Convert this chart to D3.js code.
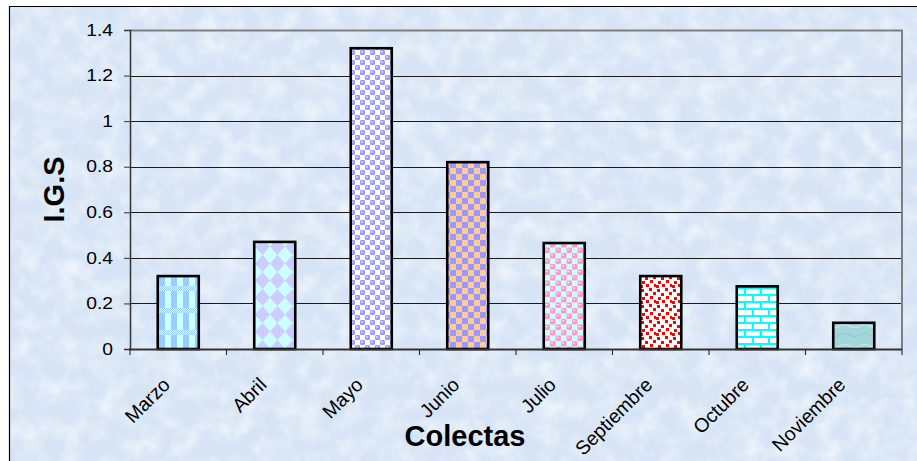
<!DOCTYPE html>
<html>
<head>
<meta charset="utf-8">
<script src="https://cdn.jsdelivr.net/npm/d3@7"></script>
<style>
  html, body { margin: 0; padding: 0; background: #ffffff; }
  svg { display: block; }
  text { font-family: "Liberation Sans", Arial, sans-serif; }
</style>
</head>
<body>
<script>
// Índice gonadosomático por colecta
const categories = ["Marzo", "Abril", "Mayo", "Junio", "Julio", "Septiembre", "Octubre", "Noviembre"];
const igsValues = [0.32, 0.47, 1.32, 0.82, 0.465, 0.32, 0.275, 0.115];
const yTicks = [0, 0.2, 0.4, 0.6, 0.8, 1, 1.2, 1.4];
const fillPatterns = ["plaid", "diamond", "sphereBlue", "checker", "spherePink", "confetti", "brick", "water"];

const W = 917, H = 461;
const plot = { left: 130, right: 902, top: 30, bottom: 349 };

const svg = d3.select("body").append("svg").attr("width", W).attr("height", H);
const defs = svg.append("defs");

// ---- background texture ----
const tex = defs.append("filter").attr("id", "tex")
  .attr("x", 0).attr("y", 0).attr("width", "100%").attr("height", "100%");
tex.append("feTurbulence").attr("type", "fractalNoise")
  .attr("baseFrequency", "0.05").attr("numOctaves", 3).attr("seed", 7);
tex.append("feColorMatrix").attr("type", "matrix")
  .attr("values", "0 0 0 0 1  0 0 0 0 1  0 0 0 0 1  1.6 0 0 0 -0.6");

const texDark = defs.append("filter").attr("id", "texDark")
  .attr("x", 0).attr("y", 0).attr("width", "100%").attr("height", "100%");
texDark.append("feTurbulence").attr("type", "fractalNoise")
  .attr("baseFrequency", "0.02").attr("numOctaves", 2).attr("seed", 3);
texDark.append("feColorMatrix").attr("type", "matrix")
  .attr("values", "0 0 0 0 0.66  0 0 0 0 0.78  0 0 0 0 0.93  1.3 0 0 0 -0.6");

// ---- bar fill patterns ----
function pattern(id, w, h) {
  return defs.append("pattern").attr("id", id).attr("patternUnits", "userSpaceOnUse")
    .attr("width", w).attr("height", h);
}

// plaid: light blue stripes over pale cyan with dithered bands
{
  const p = pattern("plaid", 12, 22);
  p.append("rect").attr("width", 12).attr("height", 22).attr("fill", "#ccffff");
  p.append("rect").attr("x", 3).attr("width", 6).attr("height", 22).attr("fill", "#99ccff");
  for (let yy = 0; yy < 5; yy++) {
    for (let xx = 0; xx < 12; xx++) {
      p.append("rect").attr("x", xx).attr("y", yy).attr("width", 1).attr("height", 1)
        .attr("fill", (xx + yy) % 2 === 0 ? "#99ccff" : "#ccffff");
    }
  }
}

// diamonds: lavender lozenges on pale cyan
{
  const p = pattern("diamond", 15, 17);
  p.append("rect").attr("width", 15).attr("height", 17).attr("fill", "#ccffff");
  p.append("polygon").attr("points", "7.5,0 15,8.5 7.5,17 0,8.5").attr("fill", "#ccccff");
}

// spheres: checker of rounded squares with small highlight
function spheres(id, size, fg, bg) {
  const p = pattern(id, size * 2, size * 2);
  p.append("rect").attr("width", size * 2).attr("height", size * 2).attr("fill", bg);
  [[0, 0], [size, size]].forEach(([ox, oy]) => {
    p.append("rect").attr("x", ox).attr("y", oy).attr("width", size).attr("height", size)
      .attr("rx", 1.2).attr("fill", fg);
    p.append("rect").attr("x", ox + 1).attr("y", oy + 1.5).attr("width", 2).attr("height", 1)
      .attr("fill", "#ffffff");
  });
  p.append("rect").attr("x", size * 2 - 0.5).attr("y", size * 2 - 0.5).attr("width", 1).attr("height", 1).attr("fill", fg);
}
spheres("sphereBlue", 5, "#9999ff", "#ffffff");
spheres("spherePink", 5.5, "#ff99cc", "#ccffff");

// checkerboard: violet and tan
{
  const p = pattern("checker", 12, 12);
  p.append("rect").attr("width", 12).attr("height", 12).attr("fill", "#ffcc99");
  p.append("rect").attr("width", 6).attr("height", 6).attr("fill", "#9999ff");
  p.append("rect").attr("x", 6).attr("y", 6).attr("width", 6).attr("height", 6).attr("fill", "#9999ff");
}

// confetti: small red squares on white
{
  const p = pattern("confetti", 16, 16);
  p.append("rect").attr("width", 16).attr("height", 16).attr("fill", "#ffffff");
  const dots = [[1, 1], [9, 0], [5, 5], [13, 4], [2, 9], [10, 8], [6, 12], [14, 12], [0, 13]];
  dots.forEach(([dx, dy]) => p.append("rect").attr("x", dx).attr("y", dy)
    .attr("width", 3).attr("height", 3).attr("fill", "#ff0000"));
}

// brick: cyan mortar on white
{
  const p = pattern("brick", 16, 14);
  p.append("rect").attr("width", 16).attr("height", 14).attr("fill", "#ffffff");
  p.append("rect").attr("y", 0).attr("width", 16).attr("height", 2).attr("fill", "#00ffff");
  p.append("rect").attr("y", 7).attr("width", 16).attr("height", 2).attr("fill", "#00ffff");
  p.append("rect").attr("x", 0).attr("y", 0).attr("width", 2).attr("height", 7).attr("fill", "#00ffff");
  p.append("rect").attr("x", 8).attr("y", 7).attr("width", 2).attr("height", 7).attr("fill", "#00ffff");
}

// water: soft teal
{
  const p = pattern("water", 20, 20);
  p.append("rect").attr("width", 20).attr("height", 20).attr("fill", "#a3d6da");
  p.append("path").attr("d", "M0,6 Q5,3 10,6 T20,6").attr("stroke", "#bfe6e8").attr("stroke-width", 1.5).attr("fill", "none");
  p.append("path").attr("d", "M0,15 Q5,12 10,15 T20,15").attr("stroke", "#8fc9ce").attr("stroke-width", 1.2).attr("fill", "none");
}

// ---- chart area ----
svg.append("rect").attr("x", 9).attr("y", 6).attr("width", W - 9).attr("height", H - 6)
  .attr("fill", "#d6e4f5");
svg.append("rect").attr("x", 9).attr("y", 6).attr("width", W - 9).attr("height", H - 6)
  .attr("filter", "url(#texDark)").attr("opacity", 0.35);
svg.append("rect").attr("x", 9).attr("y", 6).attr("width", W - 9).attr("height", H - 6)
  .attr("filter", "url(#tex)").attr("opacity", 0.7);
svg.append("path").attr("d", `M9.5,${H} V6.5 H${W}`).attr("fill", "none")
  .attr("stroke", "#000").attr("stroke-width", 1.2);

// ---- scales ----
const x = d3.scaleBand().domain(categories).range([plot.left, plot.right])
  .paddingInner(0.575).paddingOuter(0.2875);
const y = d3.scaleLinear().domain([0, 1.4]).range([plot.bottom, plot.top]);

// gridlines
svg.append("g").selectAll("line").data(yTicks.filter(t => t > 0 && t < 1.4)).join("line")
  .attr("x1", plot.left).attr("x2", plot.right)
  .attr("y1", d => Math.round(y(d)) + 0.5).attr("y2", d => Math.round(y(d)) + 0.5)
  .attr("stroke", "#1a1a1a").attr("stroke-width", 1);

// plot border (top and right)
svg.append("path")
  .attr("d", `M${plot.left},${plot.top + 0.5} H${plot.right} V${plot.bottom}`)
  .attr("fill", "none").attr("stroke", "#7f7f7f").attr("stroke-width", 2);

// bars
svg.append("g").selectAll("rect").data(categories).join("rect")
  .attr("x", d => x(d))
  .attr("y", (d, i) => y(igsValues[i]))
  .attr("width", x.bandwidth())
  .attr("height", (d, i) => y(0) - y(igsValues[i]))
  .attr("fill", (d, i) => `url(#${fillPatterns[i]})`)
  .attr("stroke", "#000").attr("stroke-width", 2.6);

// y axis (labels slightly widened)
const stretch = 1.17;
const yAxis = svg.append("g").attr("transform", `translate(${plot.left},0)`)
  .call(d3.axisLeft(y).tickValues(yTicks).tickSize(6).tickPadding(8.5).tickFormat(d => String(d)));
yAxis.select(".domain").attr("stroke", "#333").attr("stroke-width", 1.5);
yAxis.selectAll(".tick line").attr("stroke", "#333");
yAxis.selectAll(".tick text").attr("font-size", 16.5).attr("fill", "#000")
  .attr("font-family", "'Liberation Sans', Arial, sans-serif")
  .attr("transform", `scale(${stretch},1)`);

// x axis
const xAxisG = svg.append("g");
xAxisG.append("line").attr("x1", plot.left - 1).attr("x2", plot.right)
  .attr("y1", plot.bottom + 0.5).attr("y2", plot.bottom + 0.5)
  .attr("stroke", "#333").attr("stroke-width", 2);
const boundaries = categories.map(c => x(c) + x.bandwidth() / 2 - x.step() / 2)
  .concat([plot.right]);
xAxisG.selectAll("line.tk").data(boundaries).join("line").attr("class", "tk")
  .attr("x1", d => d).attr("x2", d => d)
  .attr("y1", plot.bottom).attr("y2", plot.bottom + 6)
  .attr("stroke", "#333").attr("stroke-width", 1.2);
xAxisG.selectAll("text").data(categories).join("text")
  .attr("transform", d => `translate(${x(d) + x.bandwidth() / 2 - 7},${plot.bottom + 37}) rotate(-45)`)
  .attr("text-anchor", "end")
  .attr("font-size", 19.5).attr("fill", "#000")
  .text(d => d);

// axis titles
svg.append("text")
  .attr("transform", `translate(64,${(plot.top + plot.bottom) / 2}) rotate(-90)`)
  .attr("text-anchor", "middle").attr("font-size", 29).attr("font-weight", "bold")
  .text("I.G.S");
svg.append("text").attr("x", 465).attr("y", 446)
  .attr("text-anchor", "middle").attr("font-size", 29).attr("font-weight", "bold")
  .text("Colectas");
</script>
</body>
</html>
